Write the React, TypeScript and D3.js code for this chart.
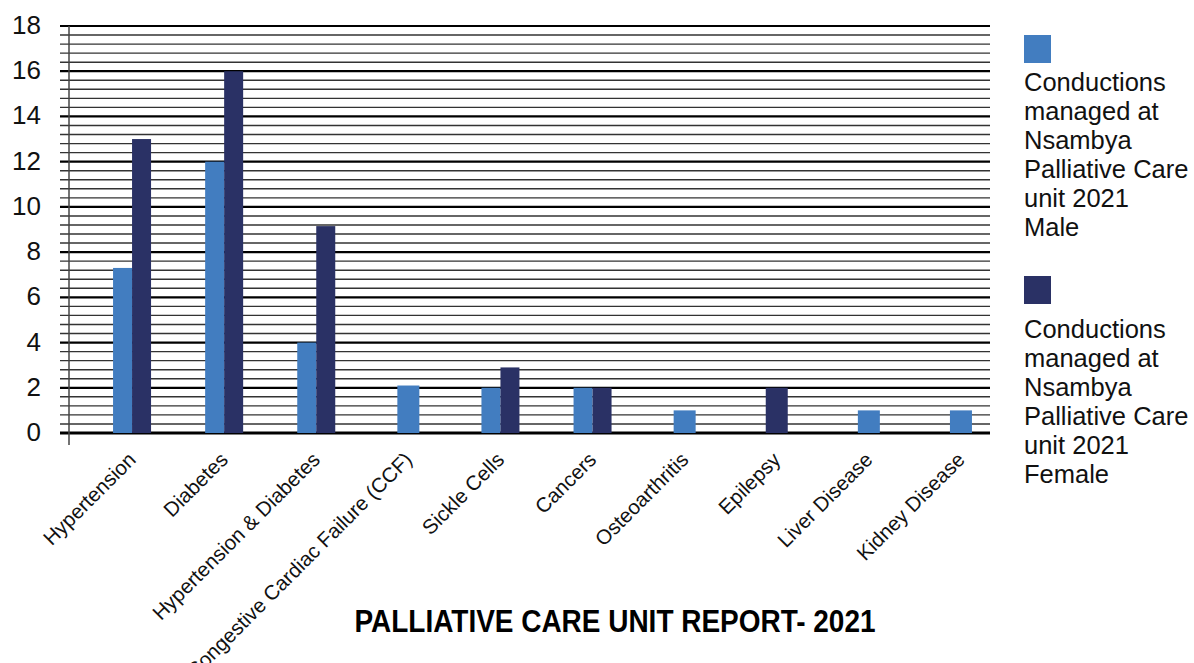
import React from "react";
import * as d3 from "d3";

// chart data
const categories = [
  "Hypertension",
  "Diabetes",
  "Hypertension & Diabetes",
  "Congestive Cardiac Failure (CCF)",
  "Sickle Cells",
  "Cancers",
  "Osteoarthritis",
  "Epilepsy",
  "Liver Disease",
  "Kidney Disease",
];
const maleValues = [7.3, 12, 4, 2.1, 2, 2, 1, 0, 1, 1];
const femaleValues = [13, 16, 9.15, 0, 2.9, 2, 0, 2, 0, 0];
const yTicks = [0, 2, 4, 6, 8, 10, 12, 14, 16, 18];
const seriesNames = ["Male", "Female"];
const legendLines = ["Conductions", "managed at", "Nsambya", "Palliative Care", "unit 2021"];
const title = "PALLIATIVE CARE UNIT REPORT- 2021";

const colors = { Male: "#427dc0", Female: "#2a3165" };

const App = () => {
  const width = 1194;
  const height = 663;
  const plot = { left: 69, right: 990, top: 26, bottom: 433 };

  const yScale = d3.scaleLinear().domain([0, 18]).range([plot.bottom, plot.top]);

  // the categories in the original sit a little right of an even split
  const xScale = d3
    .scaleBand()
    .domain(categories)
    .range([plot.left + 17, plot.right + 17]);

  const minor = d3.range(0, 46).map((i) => i * 0.4);

  const font = "'Liberation Sans', Arial, sans-serif";

  const bars = categories.flatMap((cat, i) => {
    const vals = { Male: maleValues[i], Female: femaleValues[i] };
    const active = seriesNames.filter((s) => vals[s] > 0);
    const w = active.length > 1 ? 19 : 22;
    const cx = xScale(cat) + xScale.bandwidth() / 2;
    const sub = d3
      .scaleBand()
      .domain(active)
      .range([cx - (w * active.length) / 2, cx + (w * active.length) / 2]);
    return active.map((s) => (
      <rect
        key={cat + s}
        x={sub(s)}
        y={yScale(vals[s])}
        width={sub.bandwidth()}
        height={yScale(0) - yScale(vals[s])}
        fill={colors[s]}
      />
    ));
  });

  return (
    <svg
      width={width}
      height={height}
      style={{ position: "absolute", left: 0, top: 0, background: "#fff" }}
    >
      {/* gridlines, minor every 0.4 and major every 2 */}
      {minor.map((v, i) =>
        i % 5 === 0 ? null : (
          <line
            key={"m" + i}
            x1={60}
            x2={plot.right}
            y1={yScale(v)}
            y2={yScale(v)}
            stroke="#333"
            strokeWidth={1.4}
          />
        )
      )}
      {yTicks.map((t) => (
        <line
          key={"g" + t}
          x1={60}
          x2={plot.right}
          y1={yScale(t)}
          y2={yScale(t)}
          stroke="#000"
          strokeWidth={t === 0 ? 3 : 2.2}
        />
      ))}
      <line x1={plot.left} x2={plot.left} y1={plot.top} y2={445} stroke="#444" strokeWidth={1.5} />

      {bars}

      {/* y tick labels */}
      {yTicks.map((t) => (
        <text
          key={"t" + t}
          x={41}
          y={yScale(t) + 8}
          textAnchor="end"
          fontFamily={font}
          fontSize={26}
          fill="#111"
        >
          {t}
        </text>
      ))}

      {/* category labels */}
      {categories.map((c) => {
        const cx = xScale(c) + xScale.bandwidth() / 2;
        return (
          <text
            key={"c" + c}
            transform={`translate(${cx + 5},${plot.bottom + 28}) rotate(-45)`}
            textAnchor="end"
            fontFamily={font}
            fontSize={20.5}
            fill="#111"
          >
            {c}
          </text>
        );
      })}

      {/* legend */}
      {seriesNames.map((s, k) => {
        const top = k === 0 ? 35 : 276;
        const base = k === 0 ? 91 : 338;
        return (
          <g key={"l" + s}>
            <rect x={1024} y={top} width={27} height={28} fill={colors[s]} />
            {[...legendLines, s].map((ln, j) => (
              <text
                key={j}
                x={1024}
                y={base + j * 29}
                fontFamily={font}
                fontSize={25.5}
                fill="#111"
              >
                {ln}
              </text>
            ))}
          </g>
        );
      })}

      <text
        x={615}
        y={632}
        textAnchor="middle"
        fontFamily={font}
        fontWeight="bold"
        fontSize={31}
        textLength={521}
        lengthAdjust="spacingAndGlyphs"
        fill="#000"
      >
        {title}
      </text>
    </svg>
  );
};

export default App;
